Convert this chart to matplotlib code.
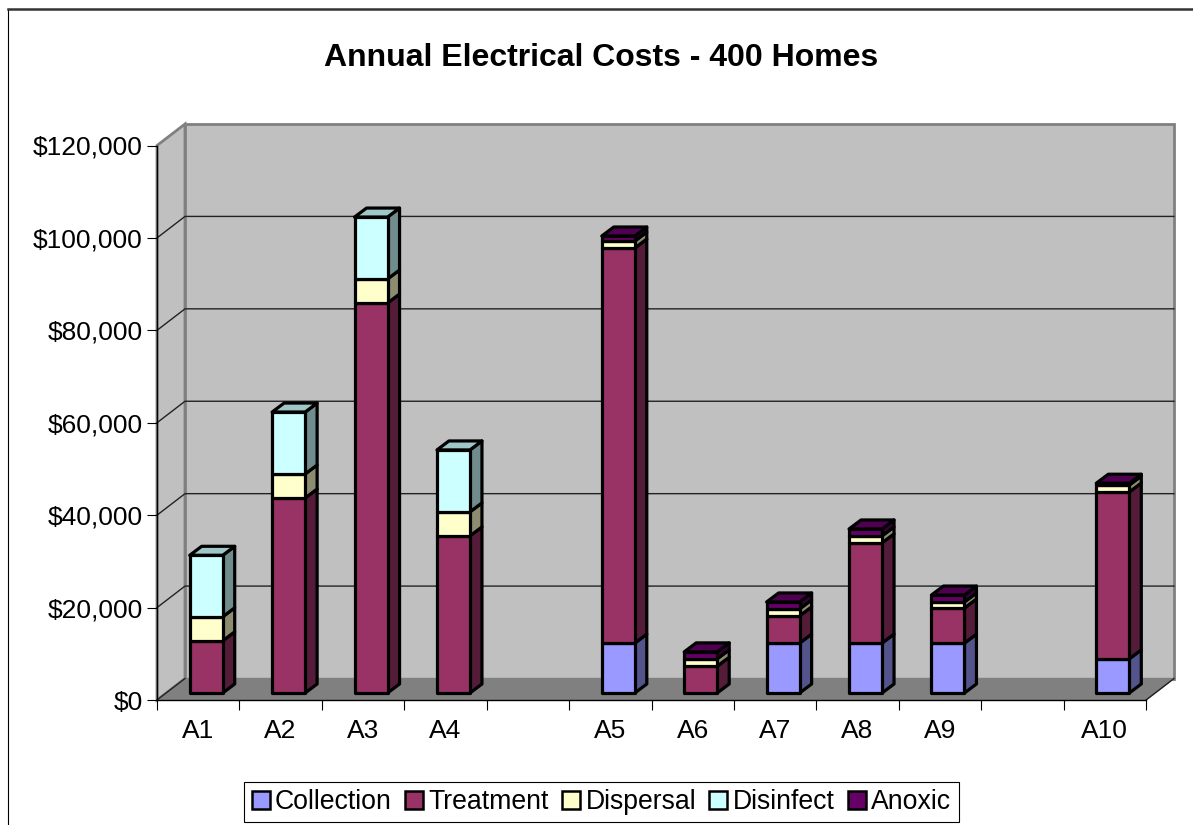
import matplotlib
matplotlib.use("Agg")
import matplotlib.pyplot as plt
from matplotlib.patches import Polygon, Patch, Rectangle
import numpy as np

plt.rcParams['font.family'] = ['Liberation Sans', 'DejaVu Sans']

W, H = 1193, 825
categories = ['A1', 'A2', 'A3', 'A4', '', 'A5', 'A6', 'A7', 'A8', 'A9', '', 'A10']
collection = [0, 0, 0, 0, 0, 10800, 0, 10800, 10800, 10800, 0, 7400]
treatment = [11300, 42200, 84400, 34000, 0, 85500, 5800, 5900, 21700, 7600, 0, 36100]
dispersal = [5200, 5200, 5200, 5200, 0, 1500, 1600, 1500, 1500, 1300, 0, 1500]
disinfect = [13300, 13400, 13400, 13400, 0, 0, 0, 0, 0, 0, 0, 0]
anoxic = [0, 0, 0, 0, 0, 1100, 1500, 1500, 1500, 1500, 0, 400]
series = [('Collection', collection, '#9999FF'), ('Treatment', treatment, '#993366'),
          ('Dispersal', dispersal, '#FFFFCC'), ('Disinfect', disinfect, '#CCFFFF'),
          ('Anoxic', anoxic, '#660066')]
yticks = [0, 20000, 40000, 60000, 80000, 100000, 120000]

fig = plt.figure(figsize=(W / 100, H / 100), dpi=100, facecolor='white')
L, R, B, T = 157, 1146, 700, 145.5
ax = fig.add_axes([L / W, 1 - B / H, (R - L) / W, (B - T) / H], facecolor='none')
ax.set_xlim(0, 12)
ax.set_ylim(0, 120000)
sx = 12 / (R - L)
sy = 120000 / (B - T)
DX, DY = 28 * sx, 21.5 * sy     # wall depth
bdx, bdy = 8 * sx, 7 * sy       # bar front offset
sdx, sdy = 12 * sx, 9 * sy      # bar depth
bw = 33 * sx


def shade(c, f):
    rgb = np.array(matplotlib.colors.to_rgb(c)) * f
    return tuple(rgb)


# walls and floor
ax.add_patch(Polygon([(0, 0), (0, 120000), (DX, 120000 + DY), (DX, DY)], fc='#C0C0C0', ec='#808080', lw=2, clip_on=False, zorder=1))
ax.add_patch(Polygon([(DX, DY), (DX, 120000 + DY), (12 + DX, 120000 + DY), (12 + DX, DY)], fc='#C0C0C0', ec='#808080', lw=2, clip_on=False, zorder=1))
ax.add_patch(Polygon([(0, 0), (DX, DY), (12 + DX, DY), (12, 0)], fc='#808080', ec='#808080', lw=1, clip_on=False, zorder=1))
for v in yticks[1:-1]:
    ax.plot([0, DX, 12 + DX], [v, v + DY, v + DY], color='#222222', lw=1, clip_on=False, zorder=2)
ax.plot([12, 12 + DX], [0, DY], color='#222222', lw=1, clip_on=False, zorder=2)
ax.plot([0, DX], [0, DY], color='#222222', lw=1, clip_on=False, zorder=2)

# bars
EC = 'black'
LW = 2.3
for i in range(len(categories)):
    x0 = i + 0.5 + bdx - bw / 2
    x1 = x0 + bw
    base = bdy
    segs = [(s[1][i], s[2]) for s in series if s[1][i] > 0]
    for j, (v, c) in enumerate(segs):
        y0, y1 = base, base + v
        ax.add_patch(Polygon([(x1, y0), (x1 + sdx, y0 + sdy), (x1 + sdx, y1 + sdy), (x1, y1)],
                             fc=shade(c, 0.55), ec=EC, lw=LW, joinstyle='round', clip_on=False, zorder=5))
        if j == len(segs) - 1:
            ax.add_patch(Polygon([(x0, y1), (x0 + sdx, y1 + sdy), (x1 + sdx, y1 + sdy), (x1, y1)],
                                 fc=shade(c, 0.78), ec=EC, lw=LW, joinstyle='round', clip_on=False, zorder=5))
        ax.add_patch(Rectangle((x0, y0), bw, v, fc=c, ec=EC, lw=LW, joinstyle='round', clip_on=False, zorder=5))
        base = y1

# axes
for s in ['top', 'right']:
    ax.spines[s].set_visible(False)
for s in ['left', 'bottom']:
    ax.spines[s].set_linewidth(1)
    ax.spines[s].set_zorder(3)
ax.set_yticks(yticks)
ax.set_yticklabels([f'${v:,}' for v in yticks])
ax.set_xticks(range(13))
ax.set_xticklabels([])
ax.set_xticks(np.arange(12) + 0.5, minor=True)
ax.set_xticklabels(categories, minor=True)
ax.tick_params(axis='both', which='major', length=7.2, width=0.8, labelsize=19)
ax.tick_params(axis='x', which='minor', length=0, labelsize=19, pad=14)
ax.tick_params(axis='y', pad=3)

fig.text(601 / W, 1 - 57.5 / H, 'Annual Electrical Costs - 400 Homes', ha='center', va='center',
         fontsize=23, fontweight='bold')

handles = [Patch(fc=s[2], ec='black', lw=1.8, label=s[0]) for s in series]
leg = fig.legend(handles=handles, ncol=5, loc='center', bbox_to_anchor=(601.5 / W, 1 - 802 / H),
                 fontsize=19.2, frameon=True, fancybox=False, edgecolor='black', framealpha=1,
                 handlelength=0.67, handleheight=0.67, handletextpad=0.2, columnspacing=0.5,
                 borderpad=0.28, borderaxespad=0)
leg.get_frame().set_linewidth(0.8)

# chart border
fig.add_artist(plt.Line2D([8 / W, 8 / W], [0, 1 - 9 / H], color='black', lw=0.8))
fig.add_artist(plt.Line2D([8 / W, 1], [1 - 9 / H, 1 - 9 / H], color='#333333', lw=1.8))

fig.savefig('out.png', dpi=100, facecolor='white')
